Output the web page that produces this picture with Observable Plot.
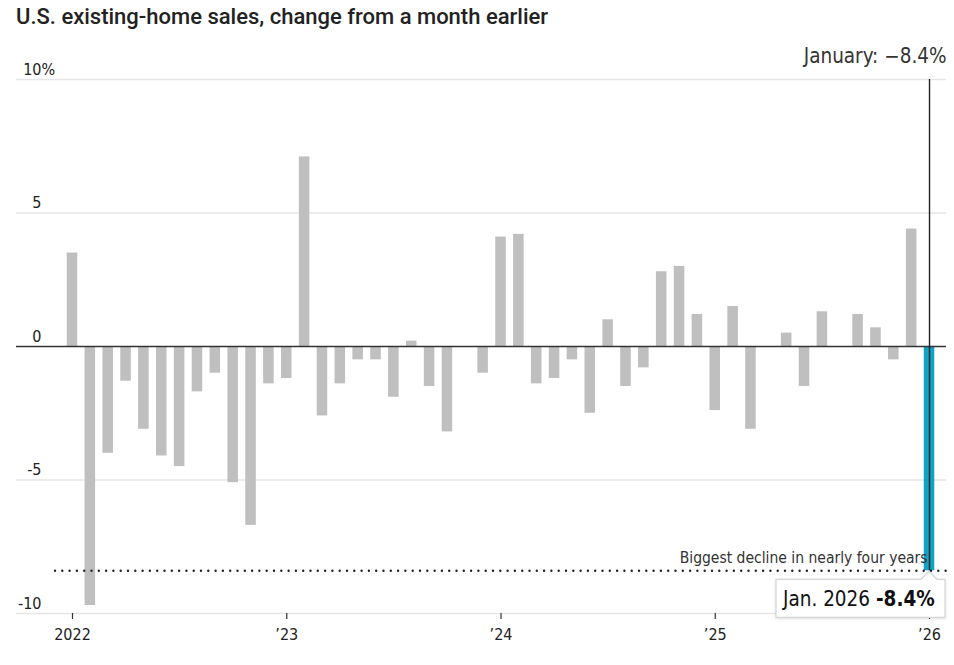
<!DOCTYPE html>
<html>
<head>
<meta charset="utf-8">
<script src="https://cdn.jsdelivr.net/npm/d3@7"></script>
<script src="https://cdn.jsdelivr.net/npm/@observablehq/plot@0.6"></script>
<style>
  body { margin: 0; background: #fff; }
  #title { height: 40px; box-sizing: border-box; padding: 5px 0 0 16px; font-family: Roboto, "Liberation Sans", sans-serif; font-weight: 500; font-size: 22px; color: #222; line-height: 24px; }
  svg { display: block; }
</style>
</head>
<body>
<div id="title">U.S. existing-home sales, change from a month earlier</div>
<div id="chart"></div>
<script>
// Data: monthly % change, Jan 2022 – Jan 2026
const startMonth = "2022-01";
const values = [
  3.5, -9.7, -4.0, -1.3, -3.1, -4.1, -4.5, -1.7, -1.0, -5.1, -6.7, -1.4,   // 2022
  -1.2, 7.1, -2.6, -1.4, -0.5, -0.5, -1.9, 0.2, -1.5, -3.2, 0.0, -1.0,     // 2023
  4.1, 4.2, -1.4, -1.2, -0.5, -2.5, 1.0, -1.5, -0.8, 2.8, 3.0, 1.2,        // 2024
  -2.4, 1.5, -3.1, 0.0, 0.5, -1.5, 1.3, 0.0, 1.2, 0.7, -0.5, 4.4,          // 2025
  -8.4                                                                      // 2026
];
const yTicks = [-10, -5, 0, 5, 10];
const xTickMonths = ["2022-01", "2023-01", "2024-01", "2025-01", "2026-01"];
const xTickLabels = ["2022", "\u201923", "\u201924", "\u201925", "\u201926"];
const topNote = "January: \u22128.4%";
const lineNote = "Biggest decline in nearly four years";
const calloutDate = "Jan. 2026";
const calloutValue = "-8.4%";

const fmtMonth = d3.utcFormat("%Y-%m");
const start = d3.utcParse("%Y-%m")(startMonth);
const months = values.map((_, i) => fmtMonth(d3.utcMonth.offset(start, i)));
const data = months.map((m, i) => ({month: m, value: values[i], last: i === values.length - 1}));
const last = data[data.length - 1];

const FONT = "'DejaVu Sans Condensed', 'DejaVu Sans', sans-serif";
const GRAY = "#bfbfbf", BLUE = "#12a3c4";

function callout(index, scales) {
  const ns = "http://www.w3.org/2000/svg";
  const xs = scales.x, ys = scales.y;
  const bw = typeof xs.bandwidth === "function" ? xs.bandwidth() : 0;
  const cx = xs(last.month) + bw / 2;
  const cy = ys(last.value);
  const g = document.createElementNS(ns, "g");
  const left = cx - 153, right = cx + 16, top = cy + 9, bottom = cy + 47, m = 8;
  const p = document.createElementNS(ns, "path");
  p.setAttribute("d", `M${left},${top}H${cx - m}L${cx},${top - m}L${cx + m},${top}H${right}V${bottom}H${left}Z`);
  p.setAttribute("fill", "#fff");
  p.setAttribute("stroke", "#d6d6d6");
  p.setAttribute("stroke-width", "1.2");
  p.setAttribute("style", "filter: drop-shadow(0 1px 1.5px rgba(0,0,0,0.12))");
  g.appendChild(p);
  const t = document.createElementNS(ns, "text");
  t.setAttribute("x", left + 7);
  t.setAttribute("y", bottom - 11);
  t.setAttribute("text-anchor", "start");
  t.setAttribute("font-family", FONT);
  t.setAttribute("font-size", "20.5");
  t.setAttribute("fill", "#111");
  const s1 = document.createElementNS(ns, "tspan");
  s1.textContent = calloutDate + " ";
  const s2 = document.createElementNS(ns, "tspan");
  s2.setAttribute("font-weight", "bold");
  s2.textContent = calloutValue;
  t.appendChild(s1); t.appendChild(s2);
  g.appendChild(t);
  return g;
}

const chart = Plot.plot({
  width: 954,
  height: 625,
  marginTop: 39,
  marginBottom: 52,
  marginLeft: 16,
  marginRight: 8,
  style: {fontFamily: FONT, background: "#fff", overflow: "visible"},
  x: {type: "band", domain: months, range: [59.4, 941.6], padding: 0.41, axis: null},
  y: {domain: [-10, 10], axis: null},
  marks: [
    Plot.ruleY(yTicks.filter(d => d !== 0), {stroke: "#e6e6e6", strokeWidth: 1.6}),
    Plot.barY(data, {x: "month", y: "value", fill: d => d.last ? BLUE : GRAY}),
    Plot.ruleY([0], {stroke: "#333", strokeWidth: 1.5}),
    Plot.ruleY([last.value], {stroke: "#222", strokeWidth: 2.4, strokeDasharray: "0,7.3", strokeLinecap: "round", insetLeft: 39}),
    Plot.ruleX([last], {x: "month", y1: 10, y2: "value", stroke: "#222", strokeWidth: 1.4}),
    Plot.axisX({ticks: xTickMonths, tickFormat: d => xTickLabels[xTickMonths.indexOf(d)], label: null, tickSize: 6, tickPadding: 9, fontSize: 16, stroke: "#333", strokeWidth: 1.2, fill: "#222"}),
    Plot.text(yTicks, {y: d => d, text: d => String(d), frameAnchor: "left", dx: 25, dy: -5, textAnchor: "end", lineAnchor: "bottom", fontSize: 16, fill: "#222"}),
    Plot.text([10], {y: d => d, text: () => "%", frameAnchor: "left", dx: 25, dy: -5, textAnchor: "start", lineAnchor: "bottom", fontSize: 16, fill: "#222"}),
    Plot.text([topNote], {frameAnchor: "top-right", text: d => d, textAnchor: "end", lineAnchor: "bottom", dy: -17, fontSize: 20.5, fill: "#333"}),
    Plot.text([last], {x: "month", y: "value", text: () => lineNote, textAnchor: "end", lineAnchor: "bottom", dx: -2, dy: -8, fontSize: 15.5, fill: "#333"}),
    callout
  ]
});
document.getElementById("chart").appendChild(chart);
</script>
</body>
</html>
